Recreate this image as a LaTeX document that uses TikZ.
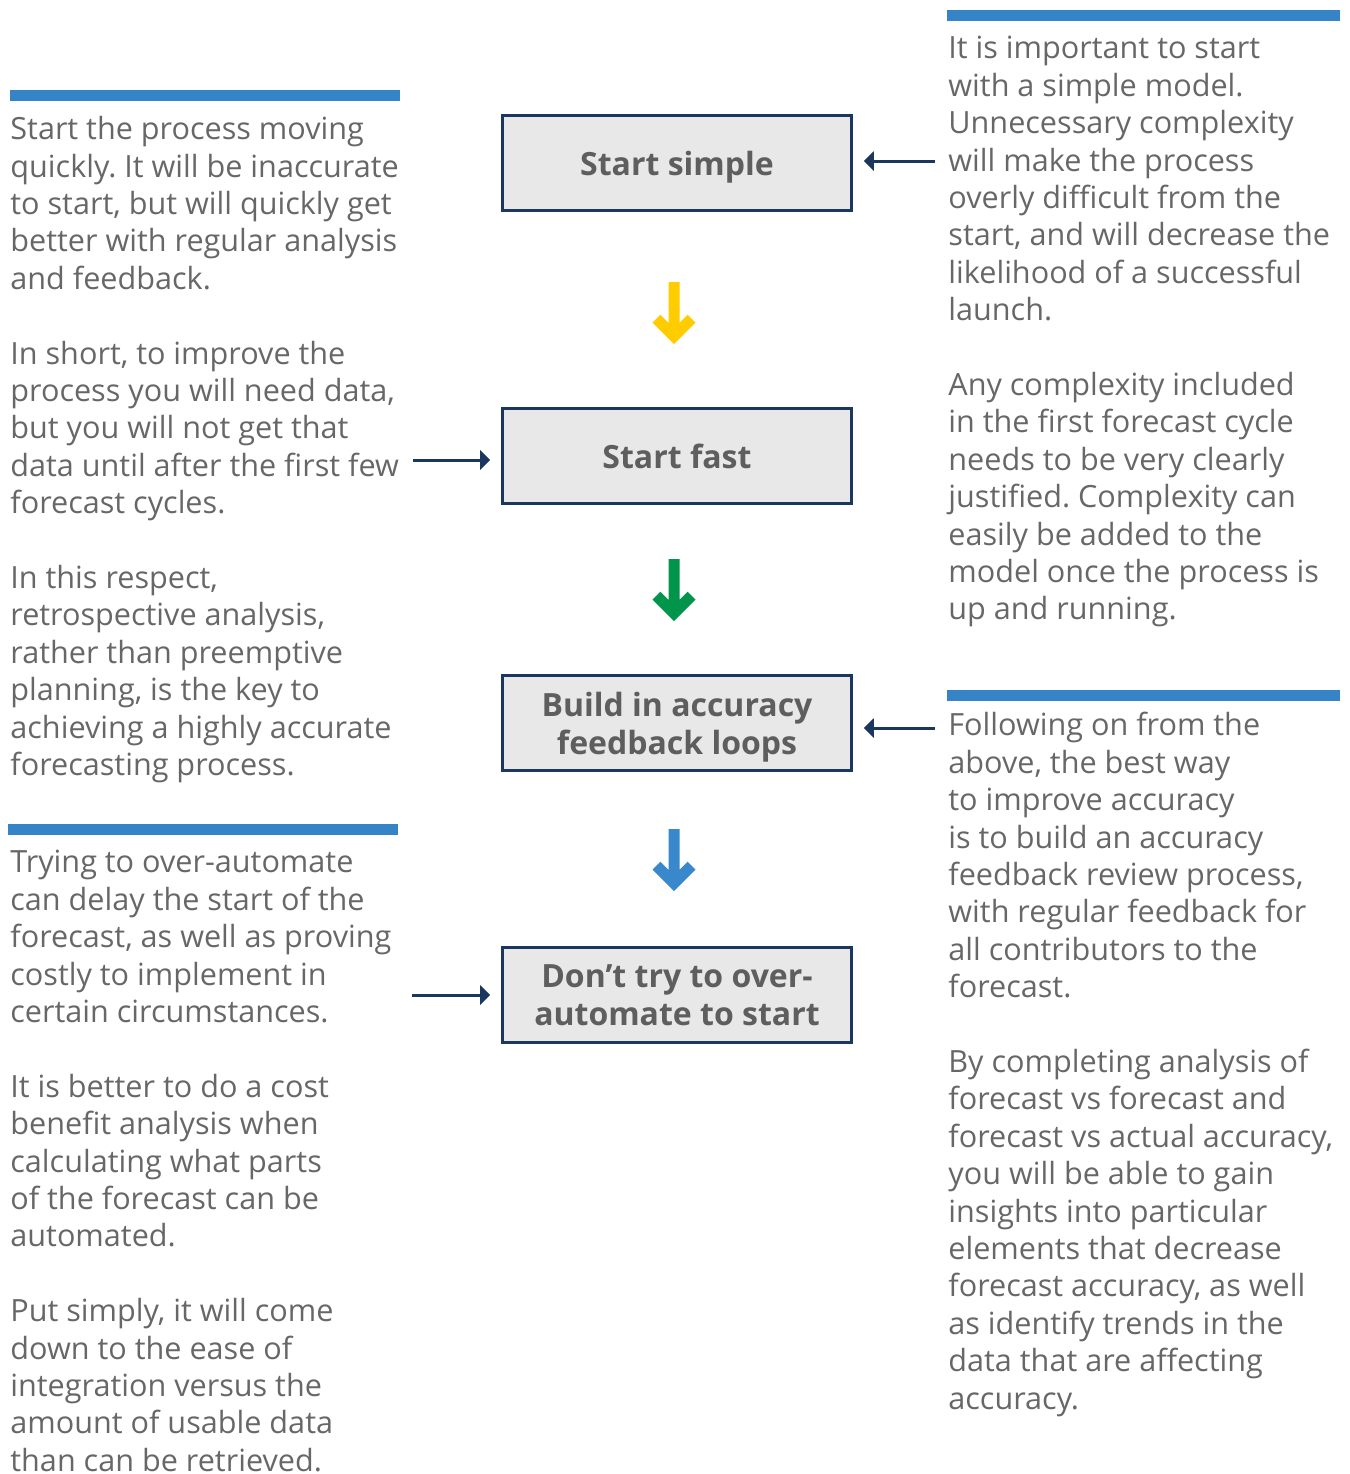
\documentclass[tikz,border=0pt]{standalone}
\usepackage{fontspec}
\setmainfont{Open Sans}
\usetikzlibrary{arrows.meta,positioning}
\definecolor{barblue}{HTML}{3484C7}
\definecolor{txtgray}{HTML}{5E5E5E}
\definecolor{bodygray}{HTML}{676767}
\definecolor{boxfill}{HTML}{E8E8E8}
\definecolor{navy}{HTML}{1C375F}
\definecolor{arryellow}{HTML}{FFCC00}
\definecolor{arrgreen}{HTML}{00954A}
\definecolor{arrblue}{HTML}{3A88CC}
\frenchspacing

\begin{document}
\begin{tikzpicture}[x=0.5pt, y=-0.5pt,
        box/.style={rectangle, draw=navy, line width=1.3pt, fill=boxfill, minimum width=174.5pt, minimum height=47.5pt, text=txtgray, text depth=0pt, font=\fontsize{16}{19}\selectfont\bfseries, align=center},
        txt/.style={anchor=north west, inner sep=0pt, text=bodygray, font=\fontsize{15.3}{18.7}\selectfont, align=left},
        bar/.style={fill=barblue},
        link/.style={-{Triangle[length=5pt, width=9.5pt]}, navy, line width=1.5pt, shorten >=5.5pt},
        dnarrow/.pic={\fill (-5.5,0) -- (5.5,0) -- (5.5,40.9) -- (13.7,32.7) -- (21.5,40.5) -- (0,62) -- (-21.5,40.5) -- (-13.7,32.7) -- (-5.5,40.9) -- cycle;},
    ]
        \useasboundingbox (0,0) rectangle (1350,1474);

        % Steps
        \node[box] (simple) at (677,163) {Start simple};
        \node[box] (fast) at (677,456) {Start fast};
        \node[box] (loops) at (677,723) {Build in accuracy\\feedback loops};
        \node[box] (automate) at (677,995) {Don’t try to over-\\automate to start};

        \pic[color=arryellow] at (674,282) {dnarrow};
        \pic[color=arrgreen] at (674,559) {dnarrow};
        \pic[color=arrblue] at (674,829) {dnarrow};

        % Left column
        \fill[bar] (10,90) rectangle (400,101);
        \node[txt] (ltxta) at (10,116) {Start the process moving\\quickly. It will be inaccurate\\to start, but will quickly get\\better with regular analysis\\and feedback.\\[18.7pt]In short, to improve the\\process you will need data,\\but you will not get that\\data until after the first few\\forecast cycles.\\[18.7pt]In this respect,\\retrospective analysis,\\rather than preemptive\\planning, is the key to\\achieving a highly accurate\\forecasting process.};
        \fill[bar] (8,824) rectangle (398,835);
        \node[txt] (ltxtb) at (10,850) {Trying to over-automate\\can delay the start of the\\forecast, as well as proving\\costly to implement in\\certain circumstances.\\[18.7pt]It is better to do a cost\\benefit analysis when\\calculating what parts\\of the forecast can be\\automated.\\[18.7pt]Put simply, it will come\\down to the ease of\\integration versus the\\amount of usable data\\than can be retrieved.};

        % Right column
        \fill[bar] (947,10) rectangle (1340,21);
        \node[txt] (rtxta) at (948,36) {It is important to start\\with a simple model.\\Unnecessary complexity\\will make the process\\overly difficult from the\\start, and will decrease the\\likelihood of a successful\\launch.\\[18.7pt]Any complexity included\\in the first forecast cycle\\needs to be very clearly\\justified. Complexity can\\easily be added to the\\model once the process is\\up and running.};
        \fill[bar] (947,690) rectangle (1340,701);
        \node[txt] (rtxtb) at (948,712) {Following on from the\\above, the best way\\to improve accuracy\\is to build an accuracy\\feedback review process,\\with regular feedback for\\all contributors to the\\forecast.\\[18.7pt]By completing analysis of\\forecast vs forecast and\\forecast vs actual accuracy,\\you will be able to gain\\insights into particular\\elements that decrease\\forecast accuracy, as well\\as identify trends in the\\data that are affecting\\accuracy.};

        % Links
        \coordinate (rs) at (935,161);
        \coordinate (lf) at (413,460);
        \coordinate (rl) at (935,728);
        \coordinate (la) at (412,995);
        \draw[link] (rs) -- (rs -| simple.east);
        \draw[link] (lf) -- (lf -| fast.west);
        \draw[link] (rl) -- (rl -| loops.east);
        \draw[link] (la) -- (la -| automate.west);
    \end{tikzpicture}
\end{document}
